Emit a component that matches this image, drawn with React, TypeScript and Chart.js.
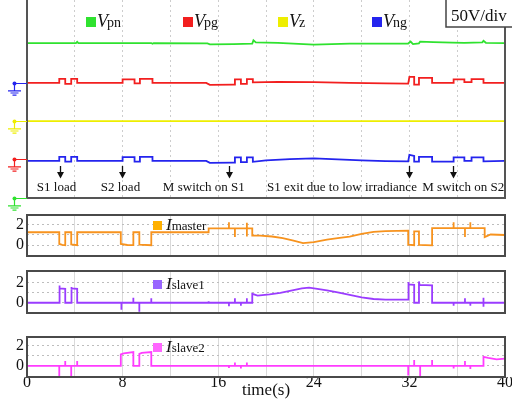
import React, { useEffect, useRef } from "react";
import { Chart, registerables } from "chart.js";

Chart.register(...registerables);

type Pt = [number, number];

const SERIF = "'Liberation Serif', 'Times New Roman', serif";
Chart.defaults.font.family = SERIF;
Chart.defaults.color = "#111";

// ---------- axes ----------
const timeGrid = [0, 4, 8, 12, 16, 20, 24, 28, 32, 36, 40];
const timeLabels = [0, 8, 16, 24, 32, 40];
const currentGrid = [0, 1, 2];
const currentLabels = [0, 2];

// ---------- voltage traces (scope divisions, 50V/div) ----------
const vpn: Pt[] = [
  [0, 6.26], [4.1, 6.26], [4.2, 6.31], [4.3, 6.26], [10.4, 6.26], [10.5, 6.23], [10.6, 6.26],
  [15.1, 6.25], [15.3, 6.21], [17.3, 6.22], [18.85, 6.24], [18.95, 6.37], [19.15, 6.29], [21, 6.27],
  [24, 6.2], [27, 6.24], [31.9, 6.24], [32.1, 6.32], [32.3, 6.22], [32.8, 6.25], [32.9, 6.32],
  [34, 6.3], [35.6, 6.28], [36.6, 6.27], [38.1, 6.29], [38.2, 6.35], [38.4, 6.27], [40, 6.26],
];
const vpg: Pt[] = [
  [0, 4.65], [2.7, 4.65], [2.7, 4.81], [3.2, 4.81], [3.2, 4.61], [3.7, 4.61], [3.7, 4.81],
  [4.2, 4.81], [4.2, 4.65], [8.0, 4.65], [8.0, 4.79], [9.0, 4.79], [9.0, 4.63], [9.45, 4.63],
  [9.45, 4.81], [10.5, 4.81], [10.5, 4.65], [15.0, 4.65], [15.3, 4.57], [17.3, 4.58],
  [17.4, 4.58], [17.4, 4.79], [17.9, 4.79], [17.9, 4.61], [18.4, 4.61], [18.4, 4.8],
  [18.9, 4.8], [18.9, 4.67], [21, 4.69], [24, 4.68], [27, 4.65], [30, 4.63], [31.9, 4.62],
  [32.0, 4.89], [32.4, 4.89], [32.4, 4.58], [32.8, 4.58], [32.8, 4.85], [33.9, 4.85],
  [33.9, 4.65], [35.7, 4.65], [35.7, 4.79], [36.6, 4.79], [36.6, 4.68], [37.2, 4.68],
  [37.2, 4.8], [38.2, 4.8], [38.2, 4.65], [40, 4.65],
];
const vz: Pt[] = [[0, 3.11], [40, 3.11]];
const vng: Pt[] = [
  [0, 1.5], [2.7, 1.5], [2.7, 1.66], [3.2, 1.66], [3.2, 1.47], [3.7, 1.47], [3.7, 1.66],
  [4.2, 1.66], [4.2, 1.5], [8.0, 1.5], [8.0, 1.65], [9.0, 1.65], [9.0, 1.47], [9.45, 1.47],
  [9.45, 1.66], [10.5, 1.66], [10.5, 1.5], [15.0, 1.5], [15.3, 1.42], [17.3, 1.43],
  [17.4, 1.43], [17.4, 1.64], [17.9, 1.64], [17.9, 1.45], [18.4, 1.45], [18.4, 1.64],
  [18.9, 1.64], [18.9, 1.46], [20, 1.52], [22, 1.57], [24, 1.6], [26, 1.56], [28, 1.52],
  [30, 1.49], [31.9, 1.48], [32.0, 1.74], [32.4, 1.7], [32.4, 1.47], [32.8, 1.47],
  [32.8, 1.66], [33.9, 1.66], [33.9, 1.47], [35.7, 1.47], [35.7, 1.64], [36.6, 1.64],
  [36.6, 1.5], [37.2, 1.5], [37.2, 1.64], [38.2, 1.64], [38.2, 1.48], [40, 1.5],
];
const groundLevels = [4.66, 3.11, 1.56, 0];

// ---------- currents (A) ----------
const iMaster: Pt[] = [
  [0, 1.27], [2.7, 1.27], [2.7, 0.12], [2.95, 0.03], [3.2, 0.0], [3.2, 1.27], [3.7, 1.27],
  [3.7, 0.08], [4.2, 0.0], [4.2, 1.27], [7.85, 1.27], [7.85, 0.12], [8.4, 0.02], [8.9, 0.0],
  [8.9, 1.27], [9.4, 1.27], [9.4, 0.06], [10.4, 0.0], [10.4, 1.27], [15.2, 1.27], [15.2, 1.64],
  [16.9, 1.64], [16.9, 2.25], [16.9, 1.64], [17.4, 1.64], [17.4, 0.8], [17.4, 1.64],
  [18.4, 1.64], [18.4, 2.2], [18.4, 0.85], [18.4, 1.64], [18.85, 1.64], [18.85, 0.95],
  [19.5, 0.93], [20.5, 0.85], [21.4, 0.7], [22.3, 0.45], [23.1, 0.2], [24, 0.3], [25.1, 0.55],
  [26, 0.7], [27, 0.85], [28, 1.1], [29, 1.3], [30, 1.38], [31.9, 1.43], [31.9, 0.05],
  [32.4, 0.0], [32.4, 1.35], [32.8, 1.35], [32.8, 0.02], [33.9, -0.02], [33.9, 1.68],
  [35.7, 1.68], [35.7, 2.25], [35.7, 1.68], [36.65, 1.68], [36.65, 0.8], [36.65, 1.68],
  [37.1, 1.68], [37.1, 2.25], [37.1, 1.68], [38.3, 1.68], [38.3, 0.8], [38.8, 1.05], [40, 1.0],
];
const iSlave1: Pt[] = [
  [0, 0], [2.7, 0], [2.7, 1.75], [2.75, 1.45], [3.2, 1.4], [3.2, 0], [3.7, 0], [3.7, 1.6],
  [3.75, 1.45], [4.2, 1.4], [4.2, 0], [7.9, 0], [7.9, -0.7], [7.9, 0], [8.9, 0], [8.9, 0.5],
  [8.9, 0], [9.4, 0], [9.4, -0.9], [9.4, 0], [10.4, 0], [10.4, 0.45], [10.4, 0], [15.2, 0],
  [15.2, 0.15], [15.2, 0], [16.9, 0], [16.9, -0.35], [16.9, 0], [17.4, 0], [17.4, 0.45],
  [17.4, 0], [17.9, 0], [17.9, -0.3], [17.9, 0], [18.4, 0], [18.4, 0.45], [18.4, 0],
  [18.85, 0], [18.85, 0.9], [19.3, 0.72], [20.3, 0.85], [21.2, 1.0], [22.0, 1.2], [23.0, 1.45],
  [23.6, 1.52], [24.3, 1.4], [25.1, 1.25], [26, 1.05], [27, 0.8], [28, 0.55], [29, 0.38],
  [30, 0.32], [31.9, 0.33], [31.9, 2.1], [31.95, 1.85], [32.4, 1.8], [32.4, 0], [32.8, 0],
  [32.8, 2.15], [32.85, 1.8], [33.9, 1.75], [33.9, 0], [35.7, 0], [35.7, -0.3], [35.7, 0],
  [36.65, 0], [36.65, 0.45], [36.65, 0], [37.1, 0], [37.1, -0.3], [37.1, 0], [38.2, 0],
  [38.2, 0.5], [38.2, -0.4], [38.2, 0], [40, 0],
];
const iSlave2: Pt[] = [
  [0, 0], [2.7, 0], [2.7, -1.0], [2.7, 0], [3.2, 0], [3.2, 0.5], [3.2, 0], [3.7, 0],
  [3.7, -1.0], [3.7, 0], [4.2, 0], [4.2, 0.5], [4.2, 0], [7.85, 0], [7.85, 1.15], [8.1, 1.25],
  [8.9, 1.38], [8.9, 0], [9.4, 0], [9.4, 1.2], [9.6, 1.3], [10.4, 1.38], [10.4, 0], [15.2, 0],
  [15.2, 0.1], [15.2, 0], [16.9, 0], [16.9, -0.2], [16.9, 0], [17.4, 0], [17.4, 0.35],
  [17.4, 0], [17.9, 0], [17.9, -0.25], [17.9, 0], [18.4, 0], [18.4, 0.35], [18.4, 0],
  [31.9, 0], [31.9, -0.95], [31.9, 0], [32.4, 0], [32.4, 0.6], [32.4, 0], [32.9, 0],
  [32.9, -1.0], [32.9, 0], [33.9, 0], [33.9, 0.6], [33.9, 0], [35.7, 0], [35.7, -0.25],
  [35.7, 0], [36.65, 0], [36.65, 0.5], [36.65, 0], [37.1, 0], [37.1, -0.3], [37.1, 0],
  [38.2, 0], [38.2, 0.9], [38.6, 0.8], [39.3, 0.65], [40, 0.72],
];

// ---------- events ----------
const eventTimes = [2.75, 7.95, 16.9, 31.95, 35.65];
const eventLabelTimes = [2.47, 7.82, 14.8, 26.36, 36.5];
const eventLabels = [
  "S1 load",
  "S2 load",
  "M switch on S1",
  "S1 exit due to low irradiance",
  "M switch on S2",
];

// ---------- styles ----------
const C_GREEN = "#2fe22f";
const C_RED = "#f21f1f";
const C_YELLOW = "#eeee00";
const C_BLUE = "#2424ee";
const voltLegend = [
  { sub: "pn", color: C_GREEN, x: 86 },
  { sub: "pg", color: C_RED, x: 183 },
  { sub: "z", color: C_YELLOW, x: 278 },
  { sub: "ng", color: C_BLUE, x: 372 },
];
const groundColors = [C_BLUE, C_YELLOW, C_RED, C_GREEN];

const CANVAS_W = 530;
const PAD_L = 27;
const PAD_R = 25;
const Y_AXIS_W = 11;

const toXY = (p: Pt[]) => p.map(([x, y]) => ({ x, y }));

const zeroPad = (s: any) => {
  s.paddingLeft = 0;
  s.paddingRight = 0;
  s.paddingTop = 0;
  s.paddingBottom = 0;
};

const lineDs = (data: Pt[], color: string) => ({
  data: toXY(data),
  borderColor: color,
  backgroundColor: color,
  borderWidth: 1.8,
  pointRadius: 0,
  tension: 0,
  fill: false,
});

const topDecor = {
  id: "topDecor",
  afterDatasetsDraw(chart: any) {
    const { ctx, chartArea: a, scales } = chart;
    const xs = scales.x;
    const ys = scales.y;
    ctx.save();
    // frame
    ctx.strokeStyle = "#555";
    ctx.lineWidth = 2;
    ctx.beginPath();
    ctx.moveTo(a.left, a.top);
    ctx.lineTo(a.left, a.bottom);
    ctx.lineTo(a.right, a.bottom);
    ctx.lineTo(a.right, a.top);
    ctx.stroke();

    // ground markers
    groundLevels.forEach((lvl, i) => {
      const y = Math.round(ys.getPixelForValue(lvl)) + 0.5;
      const c = groundColors[i];
      ctx.strokeStyle = c;
      ctx.fillStyle = c;
      ctx.lineWidth = 1.2;
      ctx.beginPath();
      ctx.moveTo(14, y);
      ctx.lineTo(a.left, y);
      ctx.moveTo(14.5, y);
      ctx.lineTo(14.5, y + 7);
      ctx.moveTo(8, y + 7.3);
      ctx.lineTo(21, y + 7.3);
      ctx.moveTo(10.5, y + 9.5);
      ctx.lineTo(18.5, y + 9.5);
      ctx.moveTo(12.5, y + 11.6);
      ctx.lineTo(16.5, y + 11.6);
      ctx.stroke();
      ctx.beginPath();
      ctx.arc(14.5, y, 2, 0, Math.PI * 2);
      ctx.fill();
    });

    // legend
    voltLegend.forEach((l) => {
      ctx.fillStyle = l.color;
      ctx.fillRect(l.x, 17, 10, 10);
      ctx.fillStyle = "#111";
      ctx.textBaseline = "alphabetic";
      ctx.textAlign = "left";
      ctx.font = `italic 18px ${SERIF}`;
      ctx.fillText("V", l.x + 11, 27);
      const w = ctx.measureText("V").width;
      ctx.font = `14px ${SERIF}`;
      ctx.fillText(l.sub, l.x + 11 + w - 1, 27);
    });

    // events
    ctx.strokeStyle = "#111";
    ctx.fillStyle = "#111";
    ctx.lineWidth = 1.3;
    eventTimes.forEach((t) => {
      const x = Math.round(xs.getPixelForValue(t)) + 0.5;
      ctx.beginPath();
      ctx.moveTo(x, 166);
      ctx.lineTo(x, 173);
      ctx.stroke();
      ctx.beginPath();
      ctx.moveTo(x - 3.5, 172);
      ctx.lineTo(x + 3.5, 172);
      ctx.lineTo(x, 178.5);
      ctx.closePath();
      ctx.fill();
    });
    ctx.font = `13px ${SERIF}`;
    ctx.textAlign = "center";
    ctx.textBaseline = "middle";
    eventLabels.forEach((s, i) => {
      ctx.fillText(s, xs.getPixelForValue(eventLabelTimes[i]), 188);
    });

    // scale box
    ctx.fillStyle = "#fff";
    ctx.fillRect(446, -1, 90, 28);
    ctx.strokeStyle = "#444";
    ctx.lineWidth = 1.5;
    ctx.strokeRect(446, -1, 90, 28);
    ctx.fillStyle = "#111";
    ctx.textAlign = "left";
    ctx.textBaseline = "alphabetic";
    ctx.font = `17px ${SERIF}`;
    ctx.fillText("50V/div", 451, 21);
    ctx.restore();
  },
};

function currentDecor(sub: string, sq: string, dy: number) {
  return {
    id: "curDecor",
    afterDatasetsDraw(chart: any) {
      const { ctx, chartArea: a } = chart;
      ctx.save();
      ctx.strokeStyle = "#4a4a4a";
      ctx.lineWidth = 2;
      ctx.strokeRect(a.left, a.top, a.right - a.left, a.bottom - a.top);
      const lx = a.left + 126;
      const top = a.top + dy;
      ctx.fillStyle = sq;
      ctx.fillRect(lx, top, 9, 9);
      ctx.fillStyle = "#111";
      ctx.textAlign = "left";
      ctx.textBaseline = "alphabetic";
      ctx.font = `italic 17px ${SERIF}`;
      ctx.fillText("I", lx + 13, top + 9);
      const w = ctx.measureText("I").width;
      ctx.font = `13px ${SERIF}`;
      ctx.fillText(sub, lx + 13 + w, top + 9);
      ctx.restore();
    },
  };
}

function buildTop(): any {
  return {
    type: "line",
    data: {
      datasets: [
        lineDs(vpn, C_GREEN),
        lineDs(vpg, C_RED),
        lineDs(vz, C_YELLOW),
        lineDs(vng, C_BLUE),
      ],
    },
    options: {
      responsive: false,
      animation: false,
      events: [],
      layout: { padding: { left: PAD_L, right: PAD_R, top: 0, bottom: 14 } },
      plugins: { legend: { display: false }, tooltip: { enabled: false } },
      scales: {
        x: {
          type: "linear",
          min: 0,
          max: 40,
          afterBuildTicks: (s: any) => {
            s.ticks = timeGrid.map((v) => ({ value: v }));
          },
          ticks: { display: false },
          grid: { color: "#cdcdcd", drawTicks: false, lineWidth: 1 },
          border: { display: false, dash: [2, 3] },
          afterFit: (s: any) => {
            s.height = 0;
            zeroPad(s);
          },
        },
        y: { display: false, min: 0, max: 8 },
      },
    },
    plugins: [topDecor],
  };
}

function buildCurrent(
  series: Pt[],
  color: string,
  sq: string,
  sub: string,
  yMin: number,
  yMax: number,
  padTop: number,
  padBottom: number,
  legendDy: number,
  showX: boolean
): any {
  return {
    type: "line",
    data: { datasets: [lineDs(series, color)] },
    options: {
      responsive: false,
      animation: false,
      events: [],
      layout: {
        padding: { left: PAD_L - Y_AXIS_W, right: PAD_R, top: padTop, bottom: padBottom },
      },
      plugins: { legend: { display: false }, tooltip: { enabled: false } },
      scales: {
        x: {
          type: "linear",
          min: 0,
          max: 40,
          afterBuildTicks: (s: any) => {
            s.ticks = timeGrid.map((v) => ({ value: v }));
          },
          ticks: showX
            ? {
                display: true,
                autoSkip: false,
                maxRotation: 0,
                padding: -4,
                color: "#111",
                font: { size: 16, family: SERIF },
                callback: (v: any) => (timeLabels.includes(Number(v)) ? String(v) : ""),
              }
            : { display: false },
          title: showX
            ? {
                display: true,
                text: "time(s)",
                color: "#111",
                font: { size: 17, family: SERIF },
                padding: { top: 0, bottom: 2 },
              }
            : { display: false },
          grid: { color: "#dadada", drawTicks: false, lineWidth: 1 },
          border: { display: false },
          afterFit: (s: any) => {
            s.height = showX ? 26 : 0;
            zeroPad(s);
          },
        },
        y: {
          type: "linear",
          position: "left",
          min: yMin,
          max: yMax,
          afterBuildTicks: (s: any) => {
            s.ticks = currentGrid.map((v) => ({ value: v }));
          },
          ticks: {
            display: true,
            autoSkip: false,
            padding: 3,
            color: "#111",
            font: { size: 16, family: SERIF },
            callback: (v: any) => (currentLabels.includes(Number(v)) ? String(v) : ""),
          },
          grid: { color: "#bdbdbd", drawTicks: false, lineWidth: 1 },
          border: { display: false, dash: [2, 3] },
          afterFit: (s: any) => {
            s.width = Y_AXIS_W;
            zeroPad(s);
          },
        },
      },
    },
    plugins: [currentDecor(sub, sq, legendDy)],
  };
}

function ChartCanvas({ top, height, build }: { top: number; height: number; build: () => any }) {
  const ref = useRef<HTMLCanvasElement>(null);
  useEffect(() => {
    const chart = new Chart(ref.current as HTMLCanvasElement, build());
    return () => chart.destroy();
  }, []);
  return (
    <canvas
      ref={ref}
      width={CANVAS_W}
      height={height}
      style={{ position: "absolute", left: 0, top, width: CANVAS_W, height }}
    />
  );
}

export default function App() {
  return (
    <div
      style={{
        position: "fixed",
        left: 0,
        top: 0,
        width: 512,
        height: 403,
        overflow: "hidden",
        background: "#fff",
      }}
    >
      <ChartCanvas top={0} height={212} build={buildTop} />
      <ChartCanvas
        top={212}
        height={56}
        build={() => buildCurrent(iMaster, "#f7931e", "#ffb000", "master", -1.06, 2.96, 3, 12, 6, false)}
      />
      <ChartCanvas
        top={268}
        height={57}
        build={() => buildCurrent(iSlave1, "#9a3cff", "#9966ff", "slave1", -1.03, 3.2, 3, 12, 9, false)}
      />
      <ChartCanvas
        top={325}
        height={78}
        build={() => buildCurrent(iSlave2, "#ff3cff", "#ff66ff", "slave2", -1.1, 2.88, 12, 0, 6, true)}
      />
    </div>
  );
}
